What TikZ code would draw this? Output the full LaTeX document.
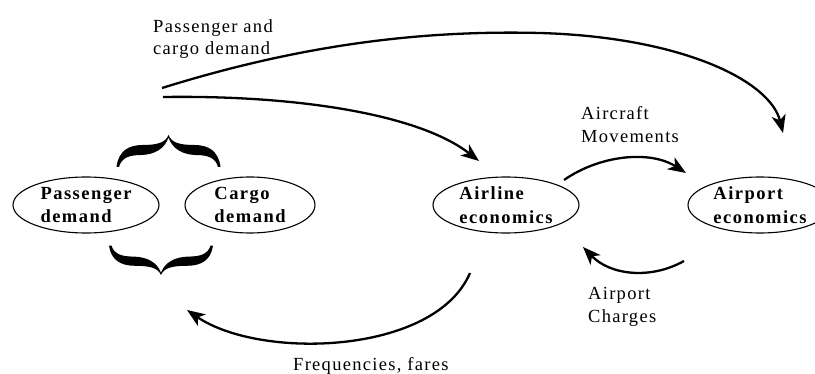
\documentclass[tikz,border=0pt]{standalone}
\usepackage{fontspec}
\setmainfont{Liberation Serif}
\newfontfamily\lblfont{Liberation Serif}[LetterSpace=7]
\newfontfamily\boxfont{Liberation Serif}[LetterSpace=8]
\usetikzlibrary{arrows.meta,shapes.geometric}
\begin{document}
\begin{tikzpicture}[x={(1pt,0pt)},y={(0pt,-1pt)},
  econ/.style={ellipse,draw,line width=1.1pt,inner sep=0pt,
    minimum height=56pt,align=left,
    font=\boxfont\bfseries\fontsize{18.5}{23.5}\selectfont},
  lbl/.style={inner sep=0pt,align=left,
    font=\lblfont\fontsize{18.5}{22.5}\selectfont},
  flow/.style={line width=2.3pt,-{Stealth[length=18pt,width=14pt,inset=5pt]}},
  curlybrace/.pic={
    \fill (-52,32) .. controls (-50,16) and (-40,10) .. (-26,10)
      .. controls (-12,10) and (-3,8) .. (0,0)
      .. controls (3,8) and (12,10) .. (26,10)
      .. controls (40,10) and (50,16) .. (52,32)
      -- (49.5,32) .. controls (47,23) and (40,20) .. (27,20)
      .. controls (14,19.5) and (4,14) .. (0,2.5)
      .. controls (-4,14) and (-14,19.5) .. (-27,20)
      .. controls (-40,20) and (-47,23) .. (-49.5,32) -- cycle;
  }]
\useasboundingbox (0,0) rectangle (815,374);

% ellipses
\node[econ,minimum width=146pt] (pass) at (86,205) {Passenger\\demand};
\node[econ,minimum width=130pt] (cargo) at (250,205) {Cargo\\demand};
\node[econ,minimum width=146pt] (airline) at (506,205) {Airline\\economics};
\node[econ,minimum width=144pt] (airport) at (760,205) {Airport\\economics};

% braces
\pic at (168.5,135) {curlybrace};
\pic[yscale=-0.92] at (161,275) {curlybrace};

% connector end points
\coordinate (src1) at (162,88);
\coordinate (src2) at (163,97);
\coordinate (airportIn) at (783,133);
\coordinate (airlineIn) at (479,161);
\coordinate (movOut) at (564,180);
\coordinate (movIn) at (686,173);
\coordinate (chgOut) at (684,261);
\coordinate (chgIn) at (583,247);
\coordinate (freqOut) at (470,273);
\coordinate (freqIn) at (187,310);

% connectors
\draw[flow] (src1) .. controls (300,45) and (420,30) .. (540,33)
  .. controls (680,37) and (770,80) .. (airportIn);
\draw[flow] (src2) .. controls (300,95) and (420,115) .. (airlineIn);
\draw[flow] (movOut) .. controls (600,155) and (650,150) .. (movIn);
\draw[flow] (chgOut) .. controls (650,280) and (610,275) .. (chgIn);
\draw[flow] (freqOut) .. controls (435,355) and (260,360) .. (freqIn);

% labels
\node[lbl,anchor=north west] (lpc) at (153,19.4) {Passenger and\\cargo demand};
\node[lbl,anchor=north west] (lam) at (581,106.4) {Aircraft\\Movements};
\node[lbl,anchor=north west] (lac) at (588,287.4) {Airport\\Charges};
\node[lbl,anchor=base west] (lff) at (293,371) {Frequencies, fares};
\end{tikzpicture}
\end{document}
